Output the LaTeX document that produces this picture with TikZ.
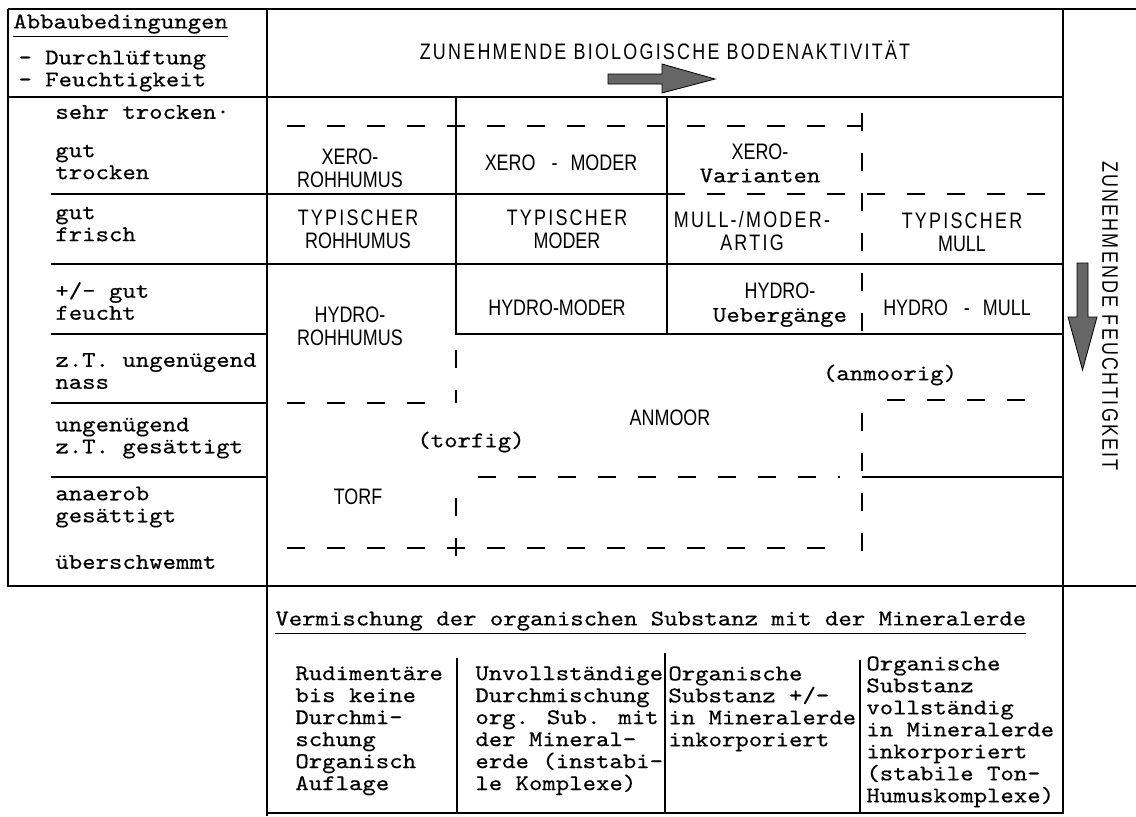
\documentclass[tikz,border=0pt]{standalone}
\usepackage{fontspec}
\newfontfamily\twfont[FakeStretch=1.14,FakeBold=0.4]{lmmono10-regular.otf}
\newfontfamily\gridfont[FakeStretch=0.8]{Liberation Sans}
\newfontfamily\gridwide[FakeStretch=0.8,LetterSpace=10]{Liberation Sans}
\usetikzlibrary{shapes,arrows}
\usetikzlibrary{positioning}

\begin{document}
\begin{tikzpicture}[x=0.5pt,y=-0.5pt,every node/.style={inner sep=0pt},
    tw/.style={font=\twfont\fontsize{11.2}{11}\selectfont,align=left},
    hs/.style={font=\gridfont\fontsize{11.2}{11.5}\selectfont,align=center},
    hw/.style={font=\gridwide\fontsize{11.2}{11.5}\selectfont,align=center},
    dashline/.style={line width=1pt,dash pattern=on 9pt off 11pt},
    fatarrow/.style={draw=black,line width=0.4pt,fill=black!60}]
    \useasboundingbox (0,0) rectangle (1136,816);
    \begin{scope}[line width=1pt]
        \draw (8,9) -- (1136,9);
        \draw (8,9) -- (8,586) -- (1136,586);
        \draw (8,97) -- (1063,97);
        \draw (267,9) -- (267,816);
        \draw (1063,9) -- (1063,813) -- (267,813);
        \foreach \y in {194,264,334,403,477}
            \draw (51,\y) -- (267,\y);
        \draw (267,194) -- (667,194);
        \draw (267,264) -- (1063,264);
        \draw (456,97) -- (456,334) -- (1063,334);
        \draw (667,97) -- (667,334);
        \draw (862,477) -- (1063,477);
        % untere Tabelle
        \draw (457,658) -- (457,813);
        \draw (665,653) -- (665,813);
        \draw (860,660) -- (860,813);
    \end{scope}
    % Grenzen gestrichelt
    \draw[dashline] (287,126) -- (862,126);
    \draw[dashline] (862,113) -- (862,334);
    \draw[dashline] (667,194) -- (1052,194);
    \draw[dashline] (287,403) -- (430,403);
    \draw[dashline] (456,350) -- (456,403);
    \draw[dashline] (456,498) -- (456,560);
    \draw[dashline] (478,477) -- (840,477);
    \draw[dashline] (287,548) -- (840,548);
    \draw[dashline] (862,413) -- (862,560);
    \draw[dashline] (887,400) -- (1035,400);

    % Kopf
    \node[tw,anchor=west] (abbau) at (13,26) {\underline{Abbaubedingungen}};
    \node[tw,anchor=west] (luft) at (18,71) {- Durchlüftung\\- Feuchtigkeit};
    \node[hw] (aktiv) at (665,50) {ZUNEHMENDE BIOLOGISCHE BODENAKTIVITÄT};
    \draw[fatarrow] (608,74) -- (662,74) -- (662,64) -- (715,79) -- (662,93)
        -- (662,84) -- (608,84) -- cycle;
    \node[hw,rotate=-90] (feucht) at (1110,316) {ZUNEHMENDE FEUCHTIGKEIT};
    \draw[fatarrow] (1077,263) -- (1088,263) -- (1088,317) -- (1097,317)
        -- (1082.5,370) -- (1068,317) -- (1077,317) -- cycle;

    % Zeilen links
    \foreach \y/\txt [count=\i] in {112/{sehr trocken·}, 162/{gut\\trocken},
        224/{gut\\frisch}, 301/{+/- gut\\feucht}, 371/{z.T. ungenügend\\nass},
        438/{ungenügend\\z.T. gesättigt}, 507/{anaerob\\gesättigt},
        562/{überschwemmt}}
        \node[tw,anchor=west] (row\i) at (55,\y) {\txt};

    % Humusformen
    \node[hs] (xerorh) at (350,168) {XERO-\\ROHHUMUS};
    \node[hs] (xeromod) at (561,163) {XERO\hspace{8pt}-\hspace{6.5pt}MODER};
    \node[hs] (xerovar) at (760,163) {XERO-\\{\twfont Varianten}};
    \node[hw] (typrh) at (358,229) {TYPISCHER\\{\gridfont ROHHUMUS}};
    \node[hw] (typmod) at (567,229) {TYPISCHER\\{\gridfont MODER}};
    \node[hw] (mullmod) at (752,231) {MULL-/MODER-\\ARTIG};
    \node[hw] (typmull) at (962,232) {TYPISCHER\\{\gridfont MULL}};
    \node[hs] (hydrorh) at (350,326) {HYDRO-\\ROHHUMUS};
    \node[hs] (hydromod) at (557,308) {HYDRO-MODER};
    \node[hs] (hydrouebg) at (780,305) {HYDRO-\\{\twfont Uebergänge}};
    \node[hs] (hydromull) at (957,308) {HYDRO\hspace{8pt}-\hspace{6.5pt}MULL};
    \node[tw] (torfig) at (471,442) {(torfig)};
    \node[hs] (anmoor) at (670,418) {ANMOOR};
    \node[tw] (anmoorig) at (890,375) {(anmoorig)};
    \node[hs] (torf) at (358,497) {TORF};

    % Vermischung
    \node[tw,anchor=west] (vermisch) at (275,623)
        {\underline{Vermischung der organischen Substanz mit der Mineralerde}};
    \node[tw,anchor=north west] (misch1) at (295,666)
        {Rudimentäre\\bis keine\\Durchmi-\\schung\\Organisch\\Auflage};
    \node[tw,anchor=north west] (misch2) at (475,666)
        {Unvollständige\\Durchmischung\\org. Sub. mit\\der Mineral-\\erde (instabi-\\le Komplexe)};
    \node[tw,anchor=north west] (misch3) at (668,666)
        {Organische\\Substanz +/-\\in Mineralerde\\inkorporiert};
    \node[tw,anchor=north west] (misch4) at (866,656)
        {Organische\\Substanz\\vollständig\\in Mineralerde\\inkorporiert\\(stabile Ton-\\Humuskomplexe)};
\end{tikzpicture}
\end{document}
